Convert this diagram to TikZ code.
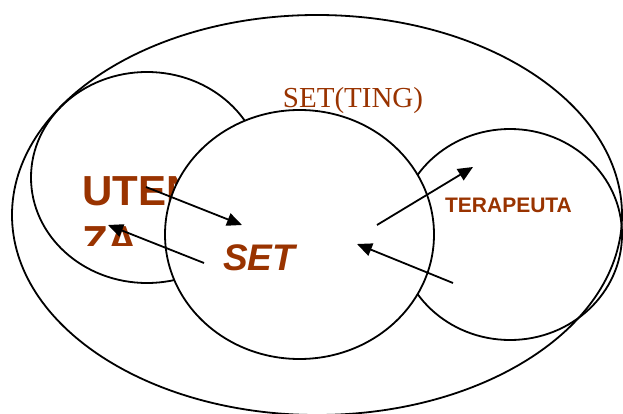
\documentclass[tikz,border=0pt]{standalone}
\usepackage{fontspec}
\setmainfont{Liberation Serif}
\newfontfamily\arialfont{Liberation Sans}
\usetikzlibrary{shapes.geometric,arrows.meta}
\definecolor{brownred}{RGB}{153,51,0}
\tikzset{
  ring/.style={draw=black, line width=1.8pt, ellipse, inner sep=0pt, outer sep=0pt},
  lbl/.style={text=brownred, inner sep=0pt},
  flow/.style={draw=black, line width=1.8pt, -{Triangle[length=15pt,width=13pt]}}
}
\begin{document}
\begin{tikzpicture}[x=1pt,y=-1pt]
\useasboundingbox (0,0) rectangle (623,414);
\fill[white] (0,0) rectangle (623,414);
% outer ellipse
\node[ring, minimum width=610pt, minimum height=400pt] (outer) at (317,215) {};
% left and right circles
\node[ring, minimum width=232pt, minimum height=211pt] (utente) at (147,177.5) {};
\node[ring, minimum width=224pt, minimum height=211pt] (terap) at (510,234.5) {};
% UTENZA text, clipped by its box
\begin{scope}
\clip (60,150) rectangle (260,245);
\node[lbl, anchor=base west, font=\arialfont\bfseries\fontsize{42}{48}\selectfont] (utA) at (82,205) {UTEN};
\node[lbl, anchor=base west, font=\arialfont\bfseries\fontsize{42}{48}\selectfont] (utB) at (82,255) {ZA};
\end{scope}
% SET circle on top
\node[ring, fill=white, minimum width=269pt, minimum height=249pt] (setc) at (299.5,234.5) {};
% labels
\node[lbl, anchor=base, font=\fontsize{29}{33}\selectfont] (setting) at (353,108) {SET(TING)};
\node[lbl, anchor=base, font=\arialfont\bfseries\itshape\fontsize{37}{42}\selectfont] (setlbl) at (259,270) {SET};
\node[lbl, anchor=base, font=\arialfont\bfseries\fontsize{21}{25}\selectfont] (terlbl) at (508.5,212) {TERAPEUTA};
% arrow end points
\coordinate (a1s) at (146,187);
\coordinate (a1e) at (242,225);
\coordinate (a2s) at (204,263);
\coordinate (a2e) at (108,225);
\coordinate (a3s) at (377,225);
\coordinate (a3e) at (473,167);
\coordinate (a4s) at (453,283);
\coordinate (a4e) at (357,244);
\draw[flow] (a1s) -- (a1e);
\draw[flow] (a2s) -- (a2e);
\draw[flow] (a3s) -- (a3e);
\draw[flow] (a4s) -- (a4e);
\end{tikzpicture}
\end{document}
